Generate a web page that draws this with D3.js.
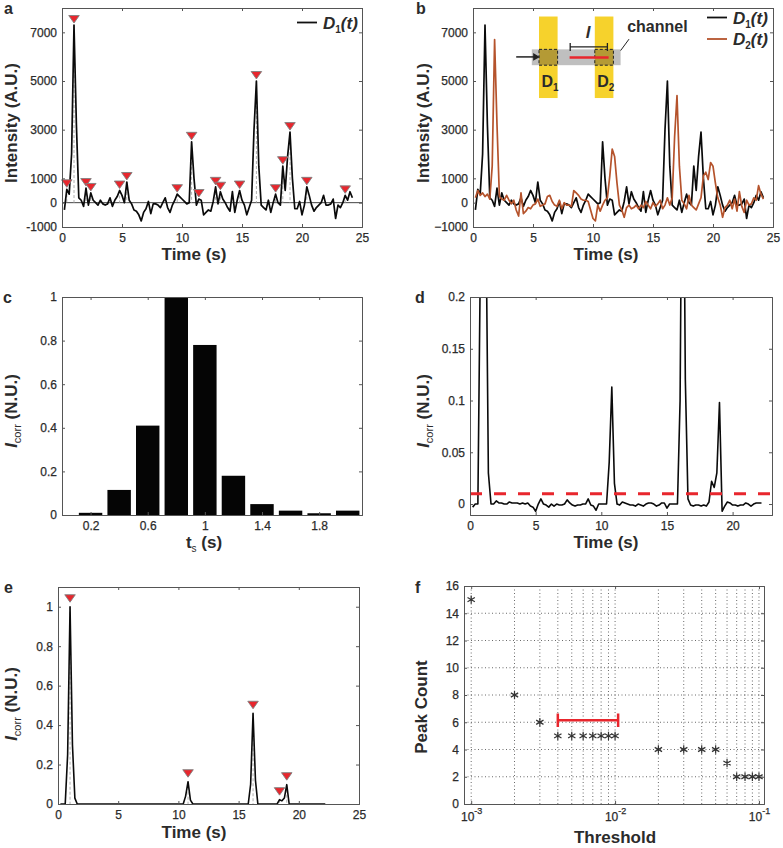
<!DOCTYPE html>
<html><head><meta charset="utf-8">
<script src="https://cdn.jsdelivr.net/npm/d3@7"></script>
<style>
html,body{margin:0;padding:0;background:#fff}
svg{display:block}
text{font-family:"Liberation Sans",Arial,sans-serif;fill:#2b2b2b}
.tick text{font-size:12px;font-weight:400;stroke:#2b2b2b;stroke-width:.25px}
.title{font-size:17px;font-weight:700}
.plabel{font-size:16px;font-weight:700}
</style></head><body>
<svg id="c" width="783" height="848"></svg>
<script>
// ---- data ----
const sampleStart = 0.2, sampleStep = 0.2;
const d1Values = [-300,550,350,2000,7300,3200,200,100,-150,600,-100,400,100,0,-100,100,-50,-100,-50,200,-150,100,250,500,300,0,850,100,-50,-300,-350,-500,-750,-400,-250,50,-450,-50,-50,-100,-200,0,200,-200,-400,-100,100,350,250,150,50,-50,0,2500,1000,-100,150,100,-500,-400,-300,-350,50,650,-50,450,150,0,-200,-350,450,-400,100,500,100,-100,-500,-200,100,3000,5000,1500,-100,-200,-300,100,-400,0,350,0,-100,1500,500,1900,2900,1000,-250,-250,50,-500,-100,650,300,-100,-350,-200,-100,0,300,-100,-100,-50,150,-650,-100,-200,0,300,100,450,200];
const d2Values = [200,500,300,400,250,350,150,1500,6700,3200,250,150,100,300,100,-50,100,-300,-550,400,-450,-350,-200,-250,-100,-50,150,-150,-100,-50,250,300,50,-100,-150,100,-250,0,-100,-100,-150,500,400,300,150,100,100,50,-300,-650,-750,-100,-350,-100,100,200,1100,2200,1900,800,-100,-300,-600,-200,-100,-250,-200,-100,-250,-100,-200,50,-100,-250,0,-150,-50,100,-250,-100,200,-100,200,2700,4400,1500,100,-50,-250,300,-100,-200,-300,-50,200,1100,1250,950,1650,1500,800,200,-100,-600,-200,-100,100,-250,150,-350,450,-150,-400,100,-100,-50,200,100,700,350,150];
const peakTimes = [0.4,1.0,2.0,2.4,4.8,5.4,9.6,10.8,11.4,12.8,13.2,14.8,16.2,17.8,18.4,19.0,20.4,23.6];
const peakHeights = [550,7300,600,400,500,850,350,2500,150,650,450,500,5000,350,1500,2900,650,300];
const tsCategories = [0.2,0.4,0.6,0.8,1.0,1.2,1.4,1.6,1.8,2.0];
const tsValues = [0.01,0.115,0.41,1,0.78,0.18,0.05,0.02,0.008,0.02];
const corrValues = [
 -0.003,0,0,0.25,1,
 0.3,0.03,0,0,0.003,
 0.001,0.001,0,0,0.002,
 0.001,0.001,0.001,0,0.001,
 0,0.001,-0.002,-0.003,-0.007,
 0,0.005,0,-0.001,-0.003,
 0,-0.002,0,-0.001,-0.001,
 0,0.004,0.001,-0.001,-0.002,
 -0.001,-0.001,0,0,0.005,
 -0.001,-0.002,-0.006,0,0,
 0,0,0.04,0.113,0.02,
 0,-0.001,0.002,0.001,0,
 -0.001,-0.001,-0.002,0,-0.001,
 -0.002,0,0.001,0.001,0,
 -0.002,-0.001,0.001,0.001,-0.004,
 0,0,0,0,0.1,
 0.46,0.12,0.005,-0.001,-0.002,
 -0.001,-0.001,-0.002,-0.001,-0.002,
 0.002,0.022,0.016,0.03,0.098,
 -0.007,-0.002,0.002,0.001,-0.001,
 -0.001,-0.002,-0.001,-0.001,0.001,
 0,-0.002,0,0.001,0.001,
 0.001];
const corrThreshold = 0.01;
const corrPeakTimes = [1.0,10.8,16.2,18.4,19.0];
const corrPeakHeights = [1,0.113,0.46,0.022,0.098];
const thresholds = [0.001,0.002,0.003,0.004,0.005,0.006,0.007,0.008,0.009,0.01,0.02,0.03,0.04,0.05,0.06,0.07,0.08,0.09,0.1];
const peakCounts = [15,8,6,5,5,5,5,5,5,5,4,4,4,4,3,2,2,2,2];
const bracketRange = [0.004,0.0105];
const bracketLevel = 6.15;
const timeTicks = [0,5,10,15,20,25];
const intensityTicks = [-1000,0,1000,3000,5000,7000];

// ---- helpers ----
const svg = d3.select("#c");
const RED = "#e8262d", BROWN = "#b5532c", INK = "#0a0a0a", FRAME = "#555";
const sampled = vals => vals.map((v,i)=>({t: sampleStart + i*sampleStep, v}));
let clipN = 0;

function frame(box, x, y, xVals, yVals, xFmt, yFmt, xPad, yPad){
  const g = svg.append("g");
  const xA = (ax,lab)=> ax(x).tickValues(xVals).tickSize(-3).tickPadding(lab?xPad:0).tickFormat(lab?xFmt:"");
  const yA = (ax,lab)=> ax(y).tickValues(yVals).tickSize(-3).tickPadding(lab?yPad:0).tickFormat(lab?yFmt:"");
  g.append("g").attr("transform",`translate(0,${box.b})`).call(xA(d3.axisBottom,true));
  g.append("g").attr("transform",`translate(0,${box.t})`).call(xA(d3.axisTop,false));
  g.append("g").attr("transform",`translate(${box.l},0)`).call(yA(d3.axisLeft,true));
  g.append("g").attr("transform",`translate(${box.r},0)`).call(yA(d3.axisRight,false));
  g.selectAll(".domain").attr("stroke",FRAME).attr("stroke-width",1);
  g.selectAll(".tick line").attr("stroke",FRAME).attr("stroke-width",1);
  g.selectAll(".tick text").attr("fill","#2b2b2b");
  return g;
}
function clip(box){
  const id="clip"+(++clipN);
  svg.append("clipPath").attr("id",id).append("rect").attr("x",box.l).attr("y",box.t).attr("width",box.r-box.l).attr("height",box.b-box.t);
  return `url(#${id})`;
}
function plabel(s,x,y){svg.append("text").attr("class","plabel").attr("x",x).attr("y",y).text(s);}
function xTitle(s,x,y){svg.append("text").attr("class","title").attr("x",x).attr("y",y).attr("text-anchor","middle").text(s);}
function yTitle(s,x,y){svg.append("text").attr("class","title").attr("transform",`translate(${x},${y}) rotate(-90)`).attr("text-anchor","middle").text(s);}
function corrTitle(x,y){
  const t=svg.append("text").attr("class","title").attr("transform",`translate(${x},${y}) rotate(-90)`).attr("text-anchor","middle");
  t.append("tspan").attr("font-style","italic").text("I");
  t.append("tspan").attr("font-size",11).attr("font-weight",400).attr("dy",4).text("corr");
  t.append("tspan").attr("dy",-4).text(" (N.U.)");
}
function trace(data,x,y,color,box,w){
  svg.append("path").datum(data).attr("clip-path",clip(box)).attr("fill","none").attr("stroke",color).attr("stroke-width",w||1.7).attr("stroke-linejoin","round")
    .attr("d",d3.line().x(d=>x(d.t)).y(d=>y(d.v)));
}
function stems(times,heights,x,y,y0){
  svg.append("g").selectAll("line").data(times).join("line")
    .attr("x1",d=>x(d)).attr("x2",d=>x(d)).attr("y1",(d,i)=>y(heights[i])).attr("y2",y0)
    .attr("stroke","#b0b0b0").attr("stroke-width",1).attr("stroke-dasharray","3 2");
}
function markers(times,heights,x,y,offset){
  svg.append("g").selectAll("path").data(times).join("path")
    .attr("d",d3.symbol(d3.symbolTriangle,48))
    .attr("transform",(d,i)=>`translate(${x(d)},${y(heights[i])-offset}) rotate(180) scale(1,.82)`)
    .attr("fill",RED).attr("stroke","#808080").attr("stroke-width",1);
}
function legendEntry(x0,x1,yy,color,sub){
  svg.append("line").attr("x1",x0).attr("x2",x1).attr("y1",yy).attr("y2",yy).attr("stroke",color).attr("stroke-width",1.8);
  const t=svg.append("text").attr("class","title").attr("x",x1+6).attr("y",yy+6).attr("font-style","italic");
  t.append("tspan").text("D");
  t.append("tspan").attr("font-size",10).attr("dy",4).attr("font-style","normal").text(sub);
  t.append("tspan").attr("dy",-4).text("(");
  t.append("tspan").text("t");
  t.append("tspan").text(")");
}

// ---- panel a ----
{
  const box={l:62,r:362,t:8,b:227};
  const x=d3.scaleLinear([0,25],[box.l,box.r]), y=d3.scaleLinear([-1000,8000],[box.b,box.t]);
  svg.append("line").attr("x1",box.l).attr("x2",box.r).attr("y1",y(0)).attr("y2",y(0)).attr("stroke","#444").attr("stroke-width",1);
  stems(peakTimes,peakHeights,x,y,y(0));
  trace(sampled(d1Values),x,y,INK,box);
  markers(peakTimes,peakHeights,x,y,7);
  frame(box,x,y,timeTicks,intensityTicks,d3.format("d"),d=>d3.format("d")(d).replace("−","-"),6,5);
  plabel("a",4,14);
  xTitle("Time (s)",194,260); yTitle("Intensity (A.U.)",17,123);
  legendEntry(297,317,22.5,"#111","1");
}
// ---- panel b ----
{
  const box={l:473,r:773,t:8,b:227};
  const x=d3.scaleLinear([0,25],[box.l,box.r]), y=d3.scaleLinear([-1000,8000],[box.b,box.t]);
  // inset schematic, placed in the panel's own scales
  const ins=svg.append("g");
  const rect=(t0,t1,v0,v1,fill)=>ins.append("rect").attr("x",x(t0)).attr("width",x(t1)-x(t0)).attr("y",y(v1)).attr("height",y(v0)-y(v1)).attr("fill",fill);
  rect(5.5,7.05,4300,7650,"#f6d22c");
  rect(10.15,11.7,4300,7650,"#f6d22c");
  rect(4.9,12.3,5650,6300,"#bfbfbf");
  [[5.5,7.05],[10.15,11.7]].forEach(s=>{
    rect(s[0],s[1],5650,6300,"#b49a35").attr("stroke","#222").attr("stroke-width",1).attr("stroke-dasharray","3 2");
  });
  ins.append("line").attr("x1",x(8.05)).attr("x2",x(11.3)).attr("y1",y(5970)).attr("y2",y(5970)).attr("stroke",RED).attr("stroke-width",2.5);
  ins.append("path").attr("d",`M${x(8.1)},${y(6560)}V${y(6230)}M${x(8.1)},${y(6400)}H${x(11.2)}M${x(11.2)},${y(6560)}V${y(6230)}`).attr("fill","none").attr("stroke","#222").attr("stroke-width",1.3);
  ins.append("line").attr("x1",x(3.6)).attr("x2",x(5.2)).attr("y1",y(5990)).attr("y2",y(5990)).attr("stroke","#222").attr("stroke-width",1.5);
  ins.append("path").attr("d",d3.symbol(d3.symbolTriangle,26)).attr("transform",`translate(${x(5.2)},${y(5990)}) rotate(90)`).attr("fill","#222");
  ins.append("line").attr("x1",x(12.3)).attr("x2",x(13)).attr("y1",y(6250)).attr("y2",y(6720)).attr("stroke","#222").attr("stroke-width",1);
  ins.append("text").attr("class","title").attr("font-size",16).attr("font-style","italic").attr("x",x(9.6)).attr("y",y(6780)).attr("text-anchor","middle").text("l");
  ins.append("text").attr("font-size",16).attr("font-weight",700).attr("x",x(12.85)).attr("y",y(7000)).text("channel");
  [[5.7,"1"],[10.35,"2"]].forEach(d=>{
    const t=ins.append("text").attr("font-size",16).attr("font-weight",700).attr("x",x(d[0])).attr("y",y(4750));
    t.append("tspan").text("D"); t.append("tspan").attr("font-size",10).attr("dy",4).text(d[1]);
  });
  trace(sampled(d1Values),x,y,INK,box);
  trace(sampled(d2Values),x,y,BROWN,box);
  frame(box,x,y,timeTicks,intensityTicks,d3.format("d"),d3.format("d"),6,5);
  plabel("b",416,14);
  xTitle("Time (s)",606,260); yTitle("Intensity (A.U.)",429,123);
  legendEntry(707,727,17.5,"#111","1");
  legendEntry(707,727,39,BROWN,"2");
}
// ---- panel c ----
{
  const box={l:62,r:362,t:297,b:515};
  const x=d3.scaleLinear([0,2.1],[box.l,box.r]), y=d3.scaleLinear([0,1],[box.b,box.t]);
  const w=(x(0.2)-x(0))*0.82;
  svg.append("g").selectAll("rect").data(tsCategories).join("rect")
    .attr("x",d=>x(d)-w/2).attr("width",w)
    .attr("y",(d,i)=>y(tsValues[i])).attr("height",(d,i)=>y(0)-y(tsValues[i]))
    .attr("fill","#050505");
  frame(box,x,y,[0.2,0.6,1,1.4,1.8],[0,0.2,0.4,0.6,0.8,1],d=>String(d),d=>String(d),6,5);
  plabel("c",3,303);
  const t=svg.append("text").attr("class","title").attr("x",204).attr("y",548).attr("text-anchor","middle");
  t.append("tspan").text("t");
  t.append("tspan").attr("font-size",10).attr("font-weight",400).attr("dy",4).text("s");
  t.append("tspan").attr("dy",-4).text(" (s)");
  corrTitle(17,411);
}
// ---- panel d ----
{
  const box={l:470,r:772,t:297,b:515};
  const x=d3.scaleLinear([0,23],[box.l,box.r]), y=d3.scaleLinear([-0.0106,0.2],[box.b,box.t]);
  trace(sampled(corrValues),x,y,INK,box,1.6);
  svg.append("line").attr("x1",box.l).attr("x2",box.r).attr("y1",y(corrThreshold)).attr("y2",y(corrThreshold))
    .attr("stroke",RED).attr("stroke-width",3).attr("stroke-dasharray","12 12");
  frame(box,x,y,[0,5,10,15,20],[0,0.05,0.1,0.15,0.2],d3.format("d"),d=>String(d),6,5);
  plabel("d",415,303);
  xTitle("Time (s)",606,548);
  corrTitle(429,411);
}
// ---- panel e ----
{
  const box={l:58,r:359,t:587,b:804};
  const x=d3.scaleLinear([0,25],[box.l,box.r]), y=d3.scaleLinear([0,1.1],[box.b,box.t]);
  stems(corrPeakTimes,corrPeakHeights,x,y,y(0));
  trace(sampled(corrValues.map(v=>v<corrThreshold?0:v)),x,y,INK,box,1.6);
  markers(corrPeakTimes,corrPeakHeights,x,y,9.5);
  frame(box,x,y,timeTicks,[0,0.2,0.4,0.6,0.8,1],d3.format("d"),d=>String(d),6,5);
  plabel("e",4,593);
  xTitle("Time (s)",194,838);
  corrTitle(17,704);
}
// ---- panel f ----
{
  const box={l:464,r:764,t:586,b:804};
  const x=d3.scaleLog([Math.pow(10,-3.05),Math.pow(10,-0.965)],[box.l,box.r]), y=d3.scaleLinear([0,16],[box.b,box.t]);
  const vGrid=[1,2,3,4,5,6,7,8,9].flatMap(m=>[m*1e-3,m*1e-2]).concat([0.1]);
  svg.append("g").selectAll("line").data(vGrid).join("line")
    .attr("x1",d=>x(d)).attr("x2",d=>x(d)).attr("y1",box.t).attr("y2",box.b)
    .attr("stroke","#444").attr("stroke-width",.8).attr("stroke-dasharray","1 2.5");
  const yTicks=[0,2,4,6,8,10,12,14,16];
  svg.append("g").selectAll("line").data(yTicks.slice(1,-1)).join("line")
    .attr("x1",box.l).attr("x2",box.r).attr("y1",d=>y(d)).attr("y2",d=>y(d))
    .attr("stroke","#444").attr("stroke-width",.8).attr("stroke-dasharray","1 2.5");
  svg.append("g").selectAll("path").data(thresholds).join("path")
    .attr("d",d3.symbol(d3.symbolAsterisk,50))
    .attr("transform",(d,i)=>`translate(${x(d)},${y(peakCounts[i])})`)
    .attr("fill","none").attr("stroke","#333").attr("stroke-width",1.2);
  svg.append("path")
    .attr("d",`M${x(bracketRange[0])},${y(bracketLevel+0.5)}V${y(bracketLevel-0.5)}M${x(bracketRange[0])},${y(bracketLevel)}H${x(bracketRange[1])}M${x(bracketRange[1])},${y(bracketLevel+0.5)}V${y(bracketLevel-0.5)}`)
    .attr("fill","none").attr("stroke",RED).attr("stroke-width",2.5);
  const g=frame(box,x,y,[0.001,0.01,0.1],yTicks,()=>"10",d=>String(d),8,5);
  g.select("g").selectAll(".tick text").each(function(d){
      const e=Math.round(Math.log10(d));
      d3.select(this).append("tspan").attr("font-size",9).attr("dy",-7).text(String(e));
    });
  plabel("f",415,593);
  xTitle("Threshold",615,843);
  yTitle("Peak Count",427,707);
}
</script>
</body></html>
